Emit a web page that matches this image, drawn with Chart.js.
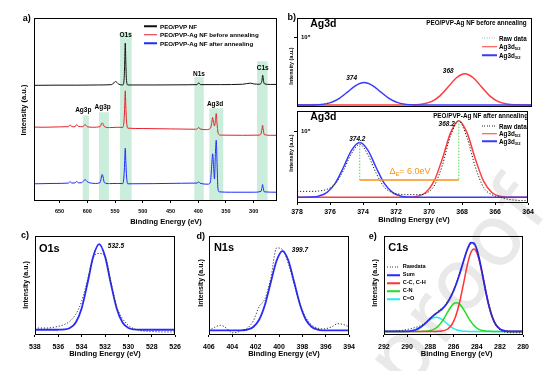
<!DOCTYPE html>
<html lang="en">
<head>
<meta charset="UTF-8">
<title>XPS spectra of PEO/PVP-Ag nanofibers</title>
<script src="https://cdn.jsdelivr.net/npm/chart.js"></script>
<style>
  body { margin: 0; background: #fff; font-family: "Liberation Sans", Arial, sans-serif; }
  #fig { position: relative; width: 554px; height: 371px; overflow: hidden; }
  .box { position: absolute; z-index: 1; }
  .t { position: absolute; z-index: 2; white-space: nowrap; color: #000; font-weight: bold; line-height: 1; transform: translate(-50%, -50%); }
  .l { transform: translate(0, -50%); }
  .r { transform: translate(-100%, -50%); }
  .rot { transform: translate(-50%, -50%) rotate(-90deg); }
  .it { font-style: italic; }
  .key { position: absolute; z-index: 2; height: 1.5px; transform: translateY(-50%); }
  .dot { height: 1px; }
  sub { font-size: 65%; vertical-align: -0.35em; line-height: 0; }
  .wm { position: absolute; z-index: 0; left: 457px; top: 282px; font-size: 84px; letter-spacing: 4px; color: #e9e9e9;
        font-family: "DejaVu Sans", sans-serif; transform: translate(-50%, -50%) rotate(-52deg); white-space: nowrap; line-height: 1; }
</style>
</head>
<body>
<div id="fig">
  <div class="wm">proof</div>

  <!-- panel a -->
  <div class="t" style="left:26.7px;top:18.3px;font-size:9px">a)</div>
  <div class="key" style="left:144px;top:26px;width:13px;background:#111"></div>
  <div class="key" style="left:144px;top:34.7px;width:13px;background:#e8202a"></div>
  <div class="key" style="left:144px;top:43.3px;width:13px;background:#1f2bff"></div>
  <div class="t l" style="left:160px;top:26.5px;font-size:6.2px">PEO/PVP NF</div>
  <div class="t l" style="left:160px;top:35.2px;font-size:6.2px">PEO/PVP-Ag NF before annealing</div>
  <div class="t l" style="left:160px;top:43.8px;font-size:6.2px">PEO/PVP-Ag NF after annealing</div>
  <div class="t" style="left:125.7px;top:35px;font-size:6.5px">O1s</div>
  <div class="t" style="left:199px;top:74px;font-size:6.5px">N1s</div>
  <div class="t" style="left:262.7px;top:68.3px;font-size:6.5px">C1s</div>
  <div class="t" style="left:215px;top:104.3px;font-size:6.5px">Ag3d</div>
  <div class="t" style="left:83.3px;top:110px;font-size:6.5px">Ag3p</div>
  <div class="t" style="left:102.7px;top:107.3px;font-size:6.5px">Ag3p</div>
  <div class="t rot" style="left:24px;top:110px;font-size:7.5px">Intensity (a.u.)</div>
  <div class="t" style="left:166px;top:221.7px;font-size:7.5px">Binding Energy (eV)</div>

  <!-- panel b -->
  <div class="t" style="left:291.7px;top:16.7px;font-size:9px">b)</div>
  <div class="t" style="left:323.3px;top:23.3px;font-size:10.5px">Ag3d</div>
  <div class="t r" style="left:526.7px;top:22.7px;font-size:6.3px">PEO/PVP-Ag NF before annealing</div>
  <div class="key dot" style="left:482px;top:38px;width:15px;background:repeating-linear-gradient(to right,#bbb 0 1px,transparent 1px 2.5px)"></div>
  <div class="key" style="left:482px;top:46.5px;width:15px;background:#ff3b3b"></div>
  <div class="key" style="left:482px;top:55px;width:15px;background:#3a3aff"></div>
  <div class="t l" style="left:499px;top:38.5px;font-size:6.3px">Raw data</div>
  <div class="t l" style="left:499px;top:47px;font-size:6.3px">Ag3d<sub>5/2</sub></div>
  <div class="t l" style="left:499px;top:55.5px;font-size:6.3px">Ag3d<sub>3/2</sub></div>
  <div class="t it" style="left:351.7px;top:78.3px;font-size:6.5px">374</div>
  <div class="t it" style="left:448.3px;top:71px;font-size:6.5px">368</div>
  <div class="t rot" style="left:292px;top:66px;font-size:5.5px">Intensity (a.u.)</div>

  <div class="t" style="left:323.3px;top:116px;font-size:10.5px">Ag3d</div>
  <div class="t r" style="left:528px;top:115.5px;font-size:6.3px">PEO/PVP-Ag NF after annealing</div>
  <div class="key dot" style="left:482px;top:126px;width:15px;background:repeating-linear-gradient(to right,#222 0 1px,transparent 1px 2.5px)"></div>
  <div class="key" style="left:482px;top:133.5px;width:15px;background:#ff3b3b"></div>
  <div class="key" style="left:482px;top:141px;width:15px;background:#3a3aff"></div>
  <div class="t l" style="left:499px;top:126.5px;font-size:6.3px">Raw data</div>
  <div class="t l" style="left:499px;top:134px;font-size:6.3px">Ag3d<sub>5/2</sub></div>
  <div class="t l" style="left:499px;top:141.5px;font-size:6.3px">Ag3d<sub>3/2</sub></div>
  <div class="t it" style="left:357.3px;top:139.3px;font-size:6.5px">374.2</div>
  <div class="t it" style="left:446.7px;top:124px;font-size:6.5px">368.2</div>
  <div class="t" style="left:410px;top:171px;font-size:9px;font-weight:normal;color:#f7931e">&Delta;<sub>E</sub>= 6.0eV</div>
  <div class="t rot" style="left:292px;top:153px;font-size:5.5px">Intensity (a.u.)</div>
  <div class="t" style="left:414px;top:219.5px;font-size:7.5px">Binding Energy (eV)</div>

  <!-- panel c -->
  <div class="t" style="left:25px;top:235.3px;font-size:9px">c)</div>
  <div class="t" style="left:49.3px;top:248.3px;font-size:11px">O1s</div>
  <div class="t it" style="left:116px;top:245.7px;font-size:6.5px">532.5</div>
  <div class="t rot" style="left:25px;top:285px;font-size:7px">Intensity (a.u.)</div>
  <div class="t" style="left:105px;top:353.5px;font-size:7.5px">Binding Energy (eV)</div>

  <!-- panel d -->
  <div class="t" style="left:200.7px;top:235.7px;font-size:9px">d)</div>
  <div class="t" style="left:224px;top:246.7px;font-size:11px">N1s</div>
  <div class="t it" style="left:300px;top:250px;font-size:6.5px">399.7</div>
  <div class="t rot" style="left:200px;top:283.3px;font-size:7px">Intensity (a.u.)</div>
  <div class="t" style="left:284px;top:354.3px;font-size:7.5px">Binding Energy (eV)</div>

  <!-- panel e -->
  <div class="t" style="left:372.7px;top:235.7px;font-size:9px">e)</div>
  <div class="t" style="left:398.3px;top:246.7px;font-size:11px">C1s</div>
  <div class="t rot" style="left:374px;top:283.3px;font-size:7px">Intensity (a.u.)</div>
  <div class="t" style="left:456.7px;top:354.3px;font-size:7.5px">Binding Energy (eV)</div>
  <div class="key dot" style="left:386.7px;top:267px;width:13px;background:repeating-linear-gradient(to right,#333 0 1px,transparent 1px 2.5px)"></div>
  <div class="key" style="left:386.7px;top:275px;width:13px;background:#2a2aff"></div>
  <div class="key" style="left:386.7px;top:283px;width:13px;background:#ff3333"></div>
  <div class="key" style="left:386.7px;top:291px;width:13px;background:#22dd22"></div>
  <div class="key" style="left:386.7px;top:299px;width:13px;background:#22eeee"></div>
  <div class="t l" style="left:402.7px;top:267.3px;font-size:5.6px">Rawdata</div>
  <div class="t l" style="left:402.7px;top:275.3px;font-size:5.6px">Sum</div>
  <div class="t l" style="left:402.7px;top:283.3px;font-size:5.6px">C-C, C-H</div>
  <div class="t l" style="left:402.7px;top:291.3px;font-size:5.6px">C-N</div>
  <div class="t l" style="left:402.7px;top:299.3px;font-size:5.6px">C=O</div>
</div>

<script>
// ---- a) survey spectra (intensity in relative units, stacked) ----
const aTicks = [650, 600, 550, 500, 450, 400, 350, 300];
const aBlackE = [696, 660, 620, 580, 556, 549, 544, 537, 536, 533.5, 532.5, 531.5, 530.5, 529.5, 527, 480, 420, 402, 399, 396, 360, 320, 306, 300, 290, 287, 285, 284.5, 283.8, 283, 282.5, 280.5, 270, 258];
const aBlackI = [63.2, 63.3, 63.3, 63.4, 63.6, 65.3, 64.0, 63.4, 63.4, 67, 76, 86.3, 76, 67, 63.4, 63.4, 63.5, 63.6, 64.6, 63.6, 63.6, 63.8, 64.4, 64.0, 63.8, 64.2, 66, 67.5, 68.8, 67.5, 66, 64, 63.7, 63.7];
const aRedE = [696, 680, 650, 634, 631, 628, 622, 619, 616, 608, 604, 600, 590, 577, 573, 569, 560, 545, 536, 533.5, 532.5, 531.5, 530.5, 529.5, 527, 500, 450, 405, 401, 399, 397, 385, 380, 377, 375.5, 374, 372.5, 370.7, 369, 367.5, 366, 364, 360, 320, 290, 287, 285, 284, 283, 281, 270, 258];
const aRedI = [40.4, 40.3, 40.5, 40.6, 41.7, 40.6, 40.6, 41.8, 40.8, 40.6, 41.8, 40.6, 40.3, 40.6, 42.7, 40.6, 40.1, 40.3, 40.2, 45, 52, 60.2, 52, 45, 39.8, 39.6, 39.4, 39.2, 39.6, 40.3, 39.4, 39.0, 39.3, 40.5, 43, 45.6, 43, 41, 44, 47.8, 42, 37, 36.0, 35.9, 36.0, 36.6, 39.5, 41.4, 39.5, 36.3, 35.9, 35.9];
const aBlueE = [696, 660, 634, 631, 628, 622, 619, 616, 610, 606, 604, 601, 595, 585, 577, 573, 569, 560, 545, 536, 533.5, 532.5, 531.5, 530.5, 529.5, 527, 480, 430, 402, 399, 397, 382, 378, 375.5, 374, 372.5, 370.7, 369, 367.5, 366, 364.5, 362, 340, 300, 287, 285, 284, 283, 281, 258];
const aBlueI = [9.4, 9.6, 9.8, 10.6, 9.8, 9.9, 10.7, 9.9, 10.0, 11.2, 11.8, 10.8, 9.9, 9.6, 10.0, 14.5, 10.0, 9.5, 9.6, 9.5, 15, 22, 28.9, 22, 15, 9.4, 9.5, 9.7, 9.8, 10.5, 9.8, 9.2, 10.5, 20, 25.8, 20, 12, 26, 33.2, 20, 7, 5, 4.8, 4.8, 5.2, 7.5, 9.0, 7.5, 5.0, 4.8];
// highlighted regions [from, to] in eV and how high each band reaches
const aBands = [[608, 597], [579, 561], [541, 520], [407, 390], [380, 355], [294, 275]];
const aBandTop = [46.8, 48.5, 92.3, 67.7, 50.7, 76.4];

// ---- b) Ag3d high resolution (1 = 10^5 counts) ----
const bTicks = [378, 376, 374, 372, 370, 368, 366, 364];
const bTickValue = 1;
const bBeforeE = [378, 377.5, 377, 376.5, 376, 375.5, 375, 374.5, 374, 373.5, 373, 372.5, 372, 371.5, 371, 370.5, 370, 369.5, 369, 368.5, 368, 367.5, 367, 366.5, 366, 365.5, 365, 364.5, 364];
const bBeforeRaw = [0.01, 0.01, 0.012, 0.02, 0.045, 0.10, 0.19, 0.28, 0.325, 0.29, 0.195, 0.10, 0.04, 0.015, 0.01, 0.02, 0.055, 0.13, 0.27, 0.40, 0.455, 0.40, 0.27, 0.13, 0.05, 0.02, 0.01, 0.01, 0.01];
const bBefore52 = [0, 0, 0, 0, 0, 0, 0, 0, 0, 0, 0, 0, 0, 0.0005, 0.003, 0.014, 0.050, 0.132, 0.265, 0.401, 0.46, 0.401, 0.265, 0.132, 0.050, 0.014, 0.003, 0.0005, 0];
const bBefore32 = [0, 0.0004, 0.002, 0.010, 0.036, 0.095, 0.190, 0.287, 0.330, 0.287, 0.190, 0.095, 0.036, 0.010, 0.002, 0.0004, 0, 0, 0, 0, 0, 0, 0, 0, 0, 0, 0, 0, 0];
const bAfterE = [378, 377.7, 377.2, 376.7, 376.2, 375.7, 375.2, 374.7, 374.2, 373.7, 373.2, 372.7, 372.2, 371.7, 371.2, 370.7, 370.2, 369.7, 369.2, 368.7, 368.2, 367.7, 367.2, 366.7, 366.2, 365.7, 365.2, 364.7, 364.2, 364];
const bAfterRaw = [0.09, 0.09, 0.09, 0.095, 0.12, 0.20, 0.40, 0.66, 0.80, 0.64, 0.36, 0.15, 0.07, 0.045, 0.04, 0.04, 0.06, 0.17, 0.48, 0.93, 1.15, 0.90, 0.46, 0.15, 0.04, 0.0, -0.03, -0.045, -0.05, -0.05];
const bAfter52 = [0, 0, 0, 0, 0, 0, 0, 0, 0, 0, 0, 0, 0, 0.0002, 0.002, 0.015, 0.073, 0.244, 0.580, 0.974, 1.158, 0.974, 0.580, 0.244, 0.073, 0.015, 0.002, 0.0002, 0, 0];
const bAfter32 = [0, 0.0004, 0.003, 0.017, 0.070, 0.206, 0.446, 0.709, 0.827, 0.709, 0.446, 0.206, 0.070, 0.017, 0.003, 0.0004, 0, 0, 0, 0, 0, 0, 0, 0, 0, 0, 0, 0, 0, 0];
const bSplitPeaks = [374.2, 368.2];
const bSplitTops = [0.827, 1.158];
const bSplitLevel = 0.26;

// ---- c) O1s ----
const cTicks = [538, 536, 534, 532, 530, 528, 526];
const cE = [538, 537, 536, 535.5, 535, 534.5, 534, 533.5, 533, 532.5, 532, 531.5, 531, 530.5, 530, 529.5, 529, 528, 527, 526];
const cRaw = [0.02, 0.02, 0.04, 0.06, 0.10, 0.18, 0.33, 0.58, 0.84, 0.89, 0.86, 0.56, 0.27, 0.13, 0.05, 0.01, -0.01, -0.02, -0.025, -0.025];
const cFit = [0, 0, 0.0005, 0.004, 0.021, 0.085, 0.249, 0.539, 0.857, 1, 0.857, 0.539, 0.249, 0.085, 0.021, 0.004, 0.0005, 0, 0, 0];

// ---- d) N1s ----
const dTicks = [406, 404, 402, 400, 398, 396, 394];
const dE = [406, 405.5, 405, 404.5, 404, 403.5, 403.2, 402.7, 402.2, 401.7, 401.2, 400.7, 400.2, 399.7, 399.2, 398.7, 398.2, 397.7, 397.2, 396.7, 396.2, 395.5, 395, 394.5, 394];
const dRaw = [0.0, 0.04, 0.065, 0.03, -0.03, -0.02, 0.0, 0.03, 0.12, 0.30, 0.40, 0.66, 1.04, 1.02, 0.84, 0.58, 0.33, 0.16, 0.07, 0.03, 0.02, 0.045, 0.085, 0.075, 0.045];
const dFit = [0, 0, 0, 0, 0, 0.0007, 0.002, 0.011, 0.044, 0.135, 0.325, 0.607, 0.882, 1, 0.882, 0.607, 0.325, 0.135, 0.044, 0.011, 0.002, 0, 0, 0, 0];

// ---- e) C1s ----
const eTicks = [292, 290, 288, 286, 284, 282, 280];
const eE = [292, 291, 290.5, 290.25, 290, 289.75, 289.5, 289.25, 289, 288.75, 288.5, 288.25, 288, 287.75, 287.5, 287.25, 287, 286.75, 286.5, 286.25, 286, 285.75, 285.5, 285.25, 285, 284.75, 284.5, 284.25, 284, 283.75, 283.5, 283.25, 283, 282.75, 282.5, 282.25, 282, 281.75, 281.5, 281, 280];
const eRaw = [0.0, 0.005, 0.012, 0.018, 0.025, 0.03, 0.04, 0.05, 0.06, 0.08, 0.10, 0.13, 0.16, 0.19, 0.225, 0.255, 0.285, 0.32, 0.37, 0.43, 0.50, 0.59, 0.70, 0.81, 0.92, 1.01, 1.06, 1.06, 0.99, 0.86, 0.70, 0.52, 0.36, 0.23, 0.13, 0.06, 0.02, 0.0, -0.01, -0.016, -0.016];
const eSum = [0, 0, 0.0003, 0.001, 0.002, 0.005, 0.011, 0.021, 0.037, 0.060, 0.089, 0.123, 0.157, 0.189, 0.217, 0.243, 0.270, 0.306, 0.354, 0.416, 0.492, 0.582, 0.685, 0.800, 0.917, 1.017, 1.077, 1.074, 1.000, 0.863, 0.689, 0.506, 0.341, 0.212, 0.120, 0.063, 0.030, 0.013, 0.005, 0.0003, 0];
const eCC = [0, 0, 0, 0, 0, 0, 0, 0, 0, 0, 0, 0, 0, 0.0003, 0.001, 0.002, 0.005, 0.013, 0.030, 0.063, 0.120, 0.211, 0.339, 0.501, 0.678, 0.841, 0.958, 1.0, 0.958, 0.841, 0.678, 0.501, 0.339, 0.211, 0.120, 0.063, 0.030, 0.013, 0.005, 0.0003, 0];
const eCN = [0, 0, 0, 0, 0, 0, 0, 0, 0, 0.001, 0.002, 0.005, 0.011, 0.022, 0.042, 0.074, 0.119, 0.175, 0.237, 0.294, 0.335, 0.350, 0.335, 0.294, 0.237, 0.175, 0.119, 0.074, 0.042, 0.022, 0.011, 0.005, 0.002, 0.001, 0, 0, 0, 0, 0, 0, 0];
const eCO = [0, 0, 0.0003, 0.001, 0.002, 0.005, 0.011, 0.021, 0.037, 0.059, 0.087, 0.118, 0.146, 0.167, 0.174, 0.167, 0.146, 0.118, 0.087, 0.059, 0.037, 0.021, 0.011, 0.005, 0.002, 0.001, 0, 0, 0, 0, 0, 0, 0, 0, 0, 0, 0, 0, 0, 0, 0];

const FONT = '"Liberation Sans", Arial, sans-serif';
const fig = document.getElementById('fig');
const pts = (xs, ys) => xs.map((x, i) => ({ x: x, y: ys[i] }));

function line(xs, ys, color, width, dash) {
    return {
        data: pts(xs, ys), borderColor: color, borderWidth: width, borderDash: dash || [],
        pointRadius: 0, fill: false, cubicInterpolationMode: 'monotone'
    };
}
function straight(xs, ys, color, width, dash) {
    const d = line(xs, ys, color, width, dash);
    d.cubicInterpolationMode = 'default';
    d.tension = 0;
    return d;
}

// frame around each plot area
const boxPlugin = {
    id: 'box',
    afterDraw(chart) {
        const a = chart.chartArea, c = chart.ctx;
        c.save();
        c.strokeStyle = '#000';
        c.lineWidth = 1;
        c.strokeRect(Math.round(a.left) + 0.5, Math.round(a.top) + 0.5, Math.round(a.right - a.left) - 1, Math.round(a.bottom - a.top) - 1);
        c.restore();
    }
};

// green shaded regions in the survey
const bandPlugin = {
    id: 'bands',
    beforeDatasetsDraw(chart) {
        const x = chart.scales.x, y = chart.scales.y, c = chart.ctx, a = chart.chartArea;
        c.save();
        c.fillStyle = 'rgba(140, 215, 175, 0.45)';
        aBands.forEach((b, i) => {
            const x1 = x.getPixelForValue(b[0]), x2 = x.getPixelForValue(b[1]);
            const top = y.getPixelForValue(aBandTop[i]);
            c.fillRect(x1, top, x2 - x1, a.bottom - top);
        });
        c.restore();
    }
};

function xScale(min, max, ticks, size, pad) {
    return {
        type: 'linear', reverse: true, min: min, max: max,
        afterFit: s => { s.height = 20; },
        afterBuildTicks: s => { s.ticks = ticks.map(v => ({ value: v })); },
        grid: { display: ticks.length > 0, drawOnChartArea: false, tickLength: 2, color: '#000' },
        border: { display: false },
        ticks: { display: ticks.length > 0, autoSkip: false, maxRotation: 0, padding: pad, color: '#000',
                 font: { family: FONT, size: size, weight: 'bold' } }
    };
}
function yScale(min, max, label) {
    return {
        min: min, max: max,
        afterFit: s => { s.width = 10; },
        afterBuildTicks: s => { s.ticks = label ? [{ value: bTickValue }] : []; },
        grid: { display: !!label, drawOnChartArea: false, tickLength: 3, color: '#000' },
        border: { display: false },
        ticks: { display: !!label, mirror: true, padding: 4, color: '#000',
                 font: { family: FONT, size: 6, weight: 'bold' }, callback: () => label }
    };
}

function makeChart(rect, x, y, datasets, plugins) {
    const L = Math.round(rect[0]), T = Math.round(rect[1]);
    const W = Math.round(rect[2] - rect[0]), H = Math.round(rect[3] - rect[1]);
    const wrap = document.createElement('div');
    wrap.className = 'box';
    wrap.style.left = (L - 10) + 'px';
    wrap.style.top = (T - 5) + 'px';
    const cv = document.createElement('canvas');
    cv.width = W + 15; cv.height = H + 25;
    cv.style.width = (W + 15) + 'px'; cv.style.height = (H + 25) + 'px';
    wrap.appendChild(cv);
    fig.appendChild(wrap);
    return new Chart(cv, {
        type: 'line',
        data: { datasets: datasets },
        options: {
            responsive: false, animation: false, events: [],
            layout: { padding: { left: 0, top: 5, right: 5, bottom: 0 } },
            plugins: { legend: { display: false }, tooltip: { enabled: false } },
            scales: { x: x, y: y }
        },
        plugins: [boxPlugin].concat(plugins || [])
    });
}

// a)
makeChart([34, 18, 277, 200.5], xScale(258, 696, aTicks, 5.5, 5), yScale(0, 100, null), [
    line(aBlackE, aBlackI, '#111', 1),
    line(aRedE, aRedI, '#e8202a', 1),
    line(aBlueE, aBlueI, '#1f2bff', 1)
], [bandPlugin]);

// b) before annealing
makeChart([297, 15, 531.5, 107], xScale(364, 378, [], 7, 3), yScale(-0.0286, 1.286, '10\u2075'), [
    line(bBeforeE, bBefore32, '#3a3aff', 1.5),
    line(bBeforeE, bBefore52, '#ff3b3b', 1.5),
    line(bBeforeE, bBeforeRaw, '#c8c8c8', 1, [1.2, 1.8])
]);

// b) after annealing
makeChart([297, 108, 531.5, 202.5], xScale(364, 378, bTicks, 7, 3), yScale(-0.086, 1.31, '10\u2075'), [
    straight([bSplitPeaks[0], bSplitPeaks[1]], [bSplitLevel, bSplitLevel], '#f7931e', 1.5),
    straight([bSplitPeaks[0], bSplitPeaks[0]], [bSplitTops[0], bSplitLevel], '#44dd44', 1, [1.5, 1.5]),
    straight([bSplitPeaks[1], bSplitPeaks[1]], [bSplitTops[1], bSplitLevel], '#44dd44', 1, [1.5, 1.5]),
    line(bAfterE, bAfterRaw, '#222', 1, [1.2, 1.8]),
    line(bAfterE, bAfter32, '#3a3aff', 1.5),
    line(bAfterE, bAfter52, '#ff3b3b', 1.5)
]);

// c)
makeChart([32.5, 236, 181.5, 334.5], xScale(526, 538, cTicks, 7, 6), yScale(-0.061, 1.094, null), [
    line(cE, cRaw, '#333', 1, [1.2, 1.8]),
    line(cE, cFit, '#2a2aff', 1.8)
]);

// d)
makeChart([206.7, 236, 356, 334.5], xScale(394, 406, dTicks, 7, 6), yScale(-0.057, 1.19, null), [
    line(dE, dRaw, '#333', 1, [1.2, 1.8]),
    line(dE, dFit, '#2a2aff', 1.8)
]);

// e)
makeChart([381.7, 236, 530, 334.5], xScale(280, 292, eTicks, 7, 6), yScale(-0.043, 1.159, null), [
    line(eE, eRaw, '#333', 1, [1.2, 1.8]),
    line(eE, eSum, '#2a2aff', 1.8),
    line(eE, eCC, '#ff3333', 1.5),
    line(eE, eCN, '#22dd22', 1.5),
    line(eE, eCO, '#22eeee', 1.5)
]);
</script>
</body>
</html>
